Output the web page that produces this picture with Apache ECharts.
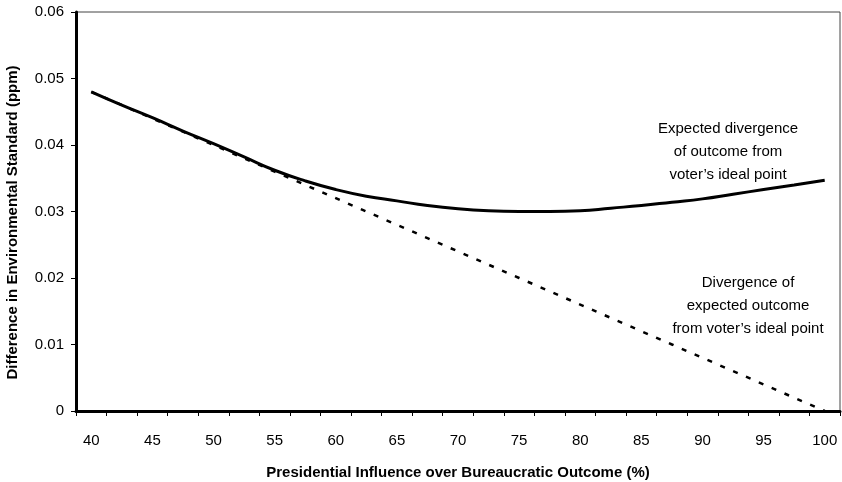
<!DOCTYPE html>
<html>
<head>
<meta charset="utf-8">
<script src="https://cdn.jsdelivr.net/npm/echarts@6/dist/echarts.min.js"></script>
<style>
html,body{margin:0;padding:0;background:#fff;}
#c{width:842px;height:482px;}
</style>
</head>
<body>
<div id="c"></div>
<script>
var categories = ['40','42.5','45','47.5','50','52.5','55','57.5','60','62.5','65','67.5','70','72.5','75','77.5','80','82.5','85','87.5','90','92.5','95','97.5','100'];
var expectedDivergence = [0.0480,0.0460,0.0441,0.0421,0.0402,0.0382,0.0362,0.0346,0.0333,0.0323,0.0316,0.0309,0.0304,0.0301,0.0300,0.0300,0.0301,0.0305,0.0309,0.0314,0.0319,0.0326,0.0333,0.0340,0.0347];
var divergenceOfExpected = [0.048,0.046,0.044,0.042,0.040,0.038,0.036,0.034,0.032,0.030,0.028,0.026,0.024,0.022,0.020,0.018,0.016,0.014,0.012,0.010,0.008,0.006,0.004,0.002,0.000];
var yTitle = 'Difference in Environmental Standard (ppm)';
var xTitle = 'Presidential Influence over Bureaucratic Outcome (%)';
var note1 = ['Expected divergence','of outcome from','voter\u2019s ideal point'];
var note2 = ['Divergence of','expected outcome','from voter\u2019s ideal point'];

var FONT = "'Liberation Sans Narrow','Arial Narrow','Liberation Sans',Arial,sans-serif";
var chart = echarts.init(document.getElementById('c'));
var option = {
  animation:false,
  backgroundColor:'#fff',
  grid:{left:76,right:2,top:12,bottom:71,outerBoundsMode:'none',containLabel:false,
        show:true,borderColor:'#444',borderWidth:1,backgroundColor:'transparent'},
  xAxis:{
    type:'category',data:categories,boundaryGap:true,
    name:xTitle,nameLocation:'middle',nameGap:54,
    nameTextStyle:{fontFamily:FONT,fontWeight:'bold',fontSize:15,color:'#000'},
    axisLine:{lineStyle:{color:'#000',width:3}},
    axisTick:{show:true,interval:0,length:5,lineStyle:{color:'#000',width:1}},
    axisLabel:{interval:1,fontFamily:FONT,fontSize:15,color:'#000',margin:22},
    splitLine:{show:false}
  },
  yAxis:{
    type:'value',min:0,max:0.06,interval:0.01,
    axisLine:{show:true,lineStyle:{color:'#000',width:3}},
    axisTick:{show:true,length:5,lineStyle:{color:'#000',width:1}},
    axisLabel:{fontFamily:FONT,fontSize:15,color:'#000',margin:12,
      formatter:function(v){return v===0?'0':v.toFixed(2);}},
    splitLine:{show:false}
  },
  series:[
    {type:'line',data:divergenceOfExpected,symbol:'none',z:2,
     lineStyle:{color:'#000',width:2.5,type:[5,9]}},
    {type:'line',data:expectedDivergence,symbol:'none',smooth:true,z:3,
     lineStyle:{color:'#000',width:3}}
  ]
};
chart.setOption(option);

function txt(lines, cat, val, dx){
  var p = chart.convertToPixel({xAxisIndex:0,yAxisIndex:0},[cat,val]);
  return {type:'text',x:p[0]+dx,y:p[1],z:10,
    style:{text:lines.join('\n'),fontFamily:FONT,fontSize:15,lineHeight:23,fill:'#000',align:'center',verticalAlign:'top'}};
}
var p0 = chart.convertToPixel({yAxisIndex:0},0);
var p6 = chart.convertToPixel({yAxisIndex:0},0.06);
chart.setOption({graphic:[
  txt(note1,'92.5',0.0442,-5),
  txt(note2,'92.5',0.0210,15),
  {type:'text',x:13,y:(p0+p6)/2+11,rotation:Math.PI/2,z:10,
   style:{text:yTitle,fontFamily:FONT,fontWeight:'bold',fontSize:15,fill:'#000',align:'center',verticalAlign:'middle'}}
]});
</script>
</body>
</html>
